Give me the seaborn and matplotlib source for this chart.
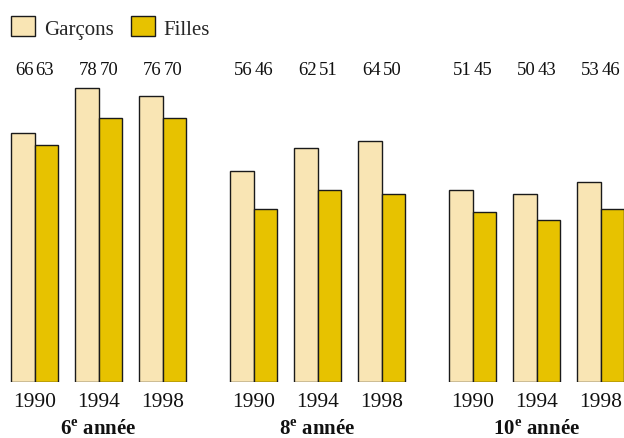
import numpy as np
import pandas as pd
import matplotlib
matplotlib.use("Agg")
import matplotlib.pyplot as plt
import matplotlib.transforms as mtransforms
from matplotlib.patches import Patch
import seaborn as sns

# Data: share of students by grade, survey year and sex
grades = ["6$^{\\mathbf{e}}$ année", "8$^{\\mathbf{e}}$ année", "10$^{\\mathbf{e}}$ année"]
years = ["1990", "1994", "1998"]
sexes = ["Garçons", "Filles"]
garcons = [66, 78, 76, 56, 62, 64, 51, 50, 53]
filles = [63, 70, 70, 46, 51, 50, 45, 43, 46]

colors = {"Garçons": "#F9E5B4", "Filles": "#E7C200"}

sns.set_theme(style="white")
plt.rcParams["font.family"] = ["Liberation Serif", "DejaVu Serif"]
plt.rcParams["mathtext.fontset"] = "custom"
plt.rcParams["mathtext.rm"] = "Liberation Serif"
plt.rcParams["mathtext.bf"] = "Liberation Serif:bold"

# Numeric positions: year pairs one unit apart, extra space between grades
group_step = 3.42
pos = []
for g in range(len(grades)):
    for j in range(len(years)):
        pos.append(g * group_step + j)

rows = []
for i, p in enumerate(pos):
    rows.append({"x": p, "sexe": "Garçons", "val": garcons[i]})
    rows.append({"x": p, "sexe": "Filles", "val": filles[i]})
df = pd.DataFrame(rows)

fig = plt.figure(figsize=(6.24, 4.39), dpi=100)
ax = fig.add_axes([0.0, 0.1276, 1.0, 0.7358])

bar_w = 0.734
sns.barplot(data=df, x="x", y="val", hue="sexe", hue_order=sexes,
            palette=colors, saturation=1, native_scale=True, width=bar_w,
            dodge=True, edgecolor="#1a1a1a", linewidth=1.0, errorbar=None,
            legend=False, ax=ax)

ax.set_xlim(-0.539, 9.205)
ax.set_ylim(0, 85.7)
for s in ax.spines.values():
    s.set_visible(False)
ax.set_yticks([])
ax.set_xlabel("")
ax.set_ylabel("")
ax.set_xticks(pos)
ax.set_xticklabels(years * len(grades), fontsize=15.5, color="#111111")
ax.tick_params(axis="x", length=0, pad=7)

# Value labels at a common height above each pair
for i, p in enumerate(pos):
    ax.text(p - bar_w / 4 + 0.02, 83, str(garcons[i]), ha="center",
            va="center", fontsize=13.5, color="#111111")
    ax.text(p + bar_w / 4 - 0.02, 83, str(filles[i]), ha="center",
            va="center", fontsize=13.5, color="#111111")

# Grade labels under each group of years
trans = mtransforms.blended_transform_factory(ax.transData, fig.transFigure)
for g, name in enumerate(grades):
    cx = g * group_step + 1
    ax.text(cx, (439 - 430.5) / 439, name, transform=trans, ha="center",
            va="center", fontsize=15, fontweight="bold", color="#111111")

handles = [Patch(facecolor=colors[s], edgecolor="#1a1a1a", linewidth=1.0)
           for s in sexes]
fig.legend(handles, sexes, loc="upper left",
           bbox_to_anchor=(0.0, 1.0 - 6 / 439),
           ncol=2, frameon=False, fontsize=15, handlelength=1.15,
           handleheight=1.1, handletextpad=0.4, columnspacing=0.85,
           borderaxespad=0.1, borderpad=0.45)

fig.savefig("out.png", dpi=100)
